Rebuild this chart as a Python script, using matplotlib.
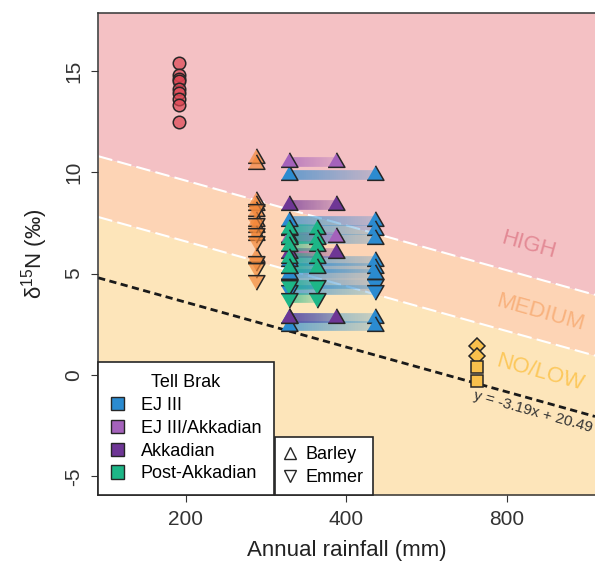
import numpy as np
import matplotlib
matplotlib.use("Agg")
import matplotlib.pyplot as plt
import matplotlib.colors as mcolors
from matplotlib.collections import LineCollection
from matplotlib.lines import Line2D
from matplotlib.patches import Patch
from matplotlib.ticker import NullLocator

plt.rcParams.update({"font.family": ["Liberation Sans", "DejaVu Sans"],
                     "mathtext.fontset": "custom", "mathtext.rm": "Liberation Sans",
                     "axes.unicode_minus": False,
                     "axes.linewidth": 1.1, "axes.edgecolor": "#333333",
                     "xtick.major.size": 5, "ytick.major.size": 5,
                     "xtick.color": "#333333", "ytick.color": "#333333"})

# fitted line shown in the panel: d15N = slope * ln(rainfall) + intercept
SLOPE, INTERCEPT = -3.19, 20.49
BAND_OFFSETS = [3, 6]  # NO/LOW -> MEDIUM -> HIGH boundaries above the fit

# comparison sites, one rainfall value each
red_x = 194
red_y = [15.4, 14.8, 14.6, 14.5, 14.1, 13.9, 13.6, 13.3, 12.5]
orange_x = 271
orange_barley = [10.7, 10.4, 8.6, 8.4, 8.1, 7.6, 7.3, 6.9, 5.8]
orange_emmer = [8.2, 7.5, 7.0, 6.6, 5.6, 5.3, 4.7]
yellow_x = 703
yellow_diamond = [1.45, 0.95]
yellow_square = [0.4, -0.3]

# Tell Brak: rainfall range per period, d15N per sample
periods = ["EJ III", "EJ III/Akkadian", "Akkadian", "Post-Akkadian"]
rain_lo = [312, 312, 312, 312]
rain_hi = [452, 383, 383, 352]
barley = [[9.85, 7.6, 7.15, 6.7, 5.6, 5.3, 5.0, 2.8, 2.4],
          [10.5, 6.8],
          [8.4, 6.0, 2.8],
          [7.2, 6.7, 6.35, 5.75, 5.3]]
emmer = [[4.5, 4.2], [], [], [4.45, 3.8]]
period_colors = ["#2b8bd0", "#a462bb", "#6e3695", "#1db687"]

XLIM, YLIM = (137, 1170), (-5.92, 17.87)
TRI_UP = [(-1, -0.577), (1, -0.577), (0, 1.155)]
TRI_DN = [(x, -y) for x, y in TRI_UP]
EDGE = "#262626"


def fit(x):
    return SLOPE * np.log(x) + INTERCEPT


fig = plt.figure(figsize=(5.95, 5.70), dpi=100)
ax = fig.add_axes([0.165, 0.1316, 0.835, 0.846])
ax.set_xscale("log")
ax.set_xlim(*XLIM); ax.set_ylim(*YLIM)

# background bands
xs = np.geomspace(XLIM[0], XLIM[1], 60)
lo, hi = fit(xs) + BAND_OFFSETS[0], fit(xs) + BAND_OFFSETS[1]
ax.fill_between(xs, YLIM[0], lo, color="#fde5ba", lw=0, zorder=0)
ax.fill_between(xs, lo, hi, color="#fdd4b5", lw=0, zorder=0)
ax.fill_between(xs, hi, YLIM[1], color="#f4c1c4", lw=0, zorder=0)
for off in BAND_OFFSETS:
    ax.plot(xs, fit(xs) + off, color="white", lw=1.5, ls=(0, (7, 2.5)), zorder=1)
ax.plot(xs, fit(xs), color="#1a1a1a", lw=2.0, ls=(0, (2.6, 1.6)), zorder=1)

# band labels, rotated along the fit
p1 = ax.transData.transform((XLIM[0], fit(XLIM[0])))
p2 = ax.transData.transform((XLIM[1], fit(XLIM[1])))
ang = np.degrees(np.arctan2(p2[1] - p1[1], p2[0] - p1[0]))
ax.text(876, 6.41, "HIGH", color="#e38a95", fontsize=16, rotation=ang,
        ha="center", va="center", zorder=1)
ax.text(922, 3.06, "MEDIUM", color="#f8b27e", fontsize=16, rotation=ang,
        ha="center", va="center", zorder=1)
ax.text(922, 0.1, "NO/LOW", color="#fcc85c", fontsize=16, rotation=ang,
        ha="center", va="center", zorder=1)
ax.text(896, -1.8, "y = -3.19x + 20.49", color="#333333", fontsize=11,
        rotation=ang, ha="center", va="center", zorder=1)

# comparison sites
ax.plot([red_x] * len(red_y), red_y, "o", ms=9, mfc=mcolors.to_rgba("#dc4552", 0.7),
        mec=EDGE, mew=1.1, zorder=4)
ax.plot([orange_x] * len(orange_barley), orange_barley, ls="none", marker=TRI_UP, ms=14,
        mfc=mcolors.to_rgba("#f3883a", 0.7), mec=EDGE, mew=1.1, zorder=4)
ax.plot([orange_x] * len(orange_emmer), orange_emmer, ls="none", marker=TRI_DN, ms=14,
        mfc=mcolors.to_rgba("#f3883a", 0.7), mec=EDGE, mew=1.1, zorder=4)
ax.plot([yellow_x] * 2, yellow_diamond, "D", ms=8, mfc="#f8c04c", mec=EDGE, mew=1.1, zorder=4)
ax.plot([yellow_x] * 2, yellow_square, "s", ms=8, mfc="#f8c04c", mec=EDGE, mew=1.1, zorder=4)


# Tell Brak: gradient band between the two rainfall estimates, marker at both ends
def band(x0, x1, y, color, n=40):
    bx = np.geomspace(x0, x1, n + 1)
    segs = [[(bx[i], y), (bx[i + 1], y)] for i in range(n)]
    rgba = np.tile(mcolors.to_rgba(color), (n, 1))
    rgba[:, 3] = np.linspace(0.7, 0.25, n)
    ax.add_collection(LineCollection(segs, colors=rgba, linewidths=7,
                                     capstyle="butt", zorder=2), autolim=False)


for k in range(len(periods)):
    for y in barley[k] + emmer[k]:
        band(rain_lo[k], rain_hi[k], y, period_colors[k])
for k in range(len(periods)):
    for vals, mk in ((barley[k], TRI_UP), (emmer[k], TRI_DN)):
        if not vals:
            continue
        for xv in (rain_hi[k], rain_lo[k]):
            ax.plot([xv] * len(vals), vals, ls="none", marker=mk, ms=14,
                    mfc=period_colors[k], mec=EDGE, mew=1.1, zorder=5 + k)

# axes
ax.spines["right"].set_visible(False)
ax.set_xticks([200, 400, 800], ["200", "400", "800"])
ax.xaxis.set_minor_locator(NullLocator())
ax.set_yticks([-5, 0, 5, 10, 15])
ax.tick_params(labelsize=15, pad=6)
for lab in ax.get_yticklabels():
    lab.set_rotation(90); lab.set_va("center")
ax.set_xlabel("Annual rainfall (mm)", fontsize=16, labelpad=8, color="#222222")
ax.set_ylabel(r"δ$^{\mathregular{15}}$N (‰)", fontsize=16, labelpad=10, color="#222222")

# legends
h1 = [Patch(facecolor=c, edgecolor=EDGE, lw=1) for c in period_colors]
leg1 = ax.legend(h1, periods, title="Tell Brak", loc="lower left", bbox_to_anchor=(0, 0),
                 borderaxespad=0, fontsize=13, title_fontsize=13, fancybox=False,
                 framealpha=1, edgecolor=EDGE, handlelength=0.75, handleheight=0.75,
                 handletextpad=0.9, labelspacing=0.32, borderpad=0.7)
leg1.get_frame().set_linewidth(1.2)
leg1.set_zorder(20)
ax.add_artist(leg1)
h2 = [Line2D([], [], ls="none", marker="^", ms=8, mfc="none", mec=EDGE, mew=1),
      Line2D([], [], ls="none", marker="v", ms=8, mfc="none", mec=EDGE, mew=1)]
leg2 = ax.legend(h2, ["Barley", "Emmer"], loc="lower left", bbox_to_anchor=(0.356, 0),
                 borderaxespad=0, fontsize=13, fancybox=False, framealpha=1,
                 edgecolor=EDGE, handlelength=0.7, handletextpad=0.5,
                 labelspacing=0.32, borderpad=0.5)
leg2.get_frame().set_linewidth(1.2)
leg2.set_zorder(19)

fig.savefig("out.png", dpi=100)
